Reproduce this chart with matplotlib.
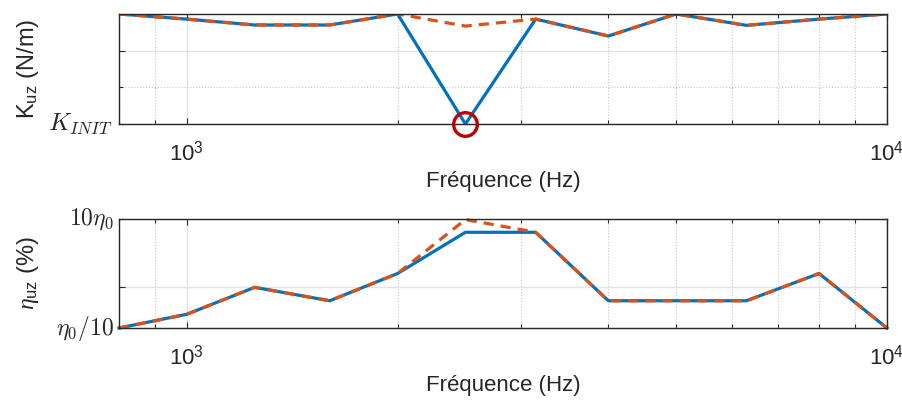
import numpy as np
import matplotlib
matplotlib.use('Agg')
import matplotlib.pyplot as plt
from matplotlib.ticker import LogLocator, NullFormatter, FixedLocator

# fonts: Helvetica-like text, serif italic for greek
plt.rcParams['font.family'] = ['Liberation Sans', 'DejaVu Sans']
plt.rcParams['mathtext.fontset'] = 'custom'
plt.rcParams['mathtext.rm'] = 'Liberation Sans'
plt.rcParams['mathtext.it'] = 'Liberation Serif:italic'
plt.rcParams['mathtext.default'] = 'it'

# data (third-octave bands)
freq = [800, 1000, 1250, 1600, 2000, 2500, 3150, 4000, 5000, 6300, 8000, 10000]
k_init = [3.0, 2.86, 2.70, 2.70, 3.0, 0.0, 2.86, 2.40, 3.0, 2.69, 2.86, 3.0]
k_opt = [3.0, 2.86, 2.70, 2.70, 3.0, 2.67, 2.86, 2.40, 3.0, 2.69, 2.86, 3.0]
eta_init = [0.0, 0.126, 0.373, 0.25, 0.50, 0.878, 0.878, 0.25, 0.25, 0.25, 0.50, 0.0]
eta_opt = [0.0, 0.126, 0.373, 0.25, 0.50, 0.995, 0.878, 0.25, 0.25, 0.25, 0.50, 0.0]

# y tick labels (latex style)
k_ticks = [0]
k_labels = [r'$K_{INIT}$']
eta_ticks = [0, 1]
eta_labels = [r'$\eta_0/10$', r'$10\eta_0$']

blue = '#0072BD'
orange = '#D95319'
axcol = '#262626'
fs = 16

fig = plt.figure(figsize=(9.02, 4.03), dpi=100)
ax1 = fig.add_axes([0.1319, 0.6923, 0.8514, 0.2730])
ax2 = fig.add_axes([0.1319, 0.1861, 0.8514, 0.2705])


def style(ax):
    ax.set_xscale('log')
    ax.set_xlim(800, 10000)
    ax.xaxis.set_major_locator(FixedLocator([1000, 10000]))
    ax.set_xticklabels(['$10^3$', '$10^4$'])
    ax.xaxis.set_minor_locator(LogLocator(base=10, subs=np.arange(2, 10)))
    ax.xaxis.set_minor_formatter(NullFormatter())
    ax.tick_params(which='both', direction='in', top=True, right=True,
                   colors=axcol, labelcolor='#262626', labelsize=fs, width=0.8)
    ax.tick_params(which='major', length=4.5)
    ax.tick_params(which='minor', length=3)
    ax.tick_params(axis='x', pad=12)
    ax.tick_params(axis='y', labelleft=False)
    for s in ax.spines.values():
        s.set_color(axcol)
        s.set_linewidth(1.0)
    ax.grid(True, which='major', color='#e3e3e3', ls='-', lw=1.0)
    ax.grid(True, which='minor', color='#c8c8c8', ls=':', lw=0.8)
    ax.set_axisbelow(True)
    ax.set_xlabel('Fréquence (Hz)', fontsize=fs, color='#262626', labelpad=4)


def ylabels(ax, ticks, labels, size=17):
    # latex-like tick labels drawn next to the left axis
    for t, lab in zip(ticks, labels):
        ax.annotate(lab, xy=(0, t), xycoords=('axes fraction', 'data'),
                    xytext=(-4, 0), textcoords='offset points',
                    ha='right', va='center', fontsize=size, color='#262626',
                    math_fontfamily='cm', annotation_clip=False)


# top: stiffness
style(ax1)
ax1.plot(freq, k_init, color=blue, lw=2.3)
ax1.plot(freq, k_opt, color=orange, lw=2.3, ls='--', dashes=(3.2, 2.2))
imin = int(np.argmin(k_init))
ax1.plot(freq[imin], k_init[imin], 'o', ms=17, mfc='none', mec='#C00000',
         mew=2.4, clip_on=False, zorder=5)
ax1.set_ylim(0, 3)
ax1.yaxis.set_major_locator(FixedLocator([0, 2]))
ax1.yaxis.set_minor_locator(FixedLocator([1]))
ylabels(ax1, k_ticks, k_labels, size=18)
ax1.set_ylabel(r'K$_{\mathrm{uz}}$ (N/m)', fontsize=17, color='#262626')
ax1.yaxis.set_label_coords(-0.102, 0.5)

# bottom: loss factor
style(ax2)
ax2.plot(freq, eta_init, color=blue, lw=2.3, clip_on=False)
ax2.plot(freq, eta_opt, color=orange, lw=2.3, ls='--', dashes=(3.2, 2.2), clip_on=False)
ax2.set_ylim(0, 1)
ax2.yaxis.set_major_locator(FixedLocator([0, 0.376, 1]))
ax2.yaxis.set_minor_locator(FixedLocator([]))
ylabels(ax2, eta_ticks, eta_labels)
ax2.set_ylabel(r'$\eta_{\mathrm{uz}}$ (%)', fontsize=17, color='#262626')
ax2.yaxis.set_label_coords(-0.102, 0.5)

fig.savefig('out.png', dpi=100)
